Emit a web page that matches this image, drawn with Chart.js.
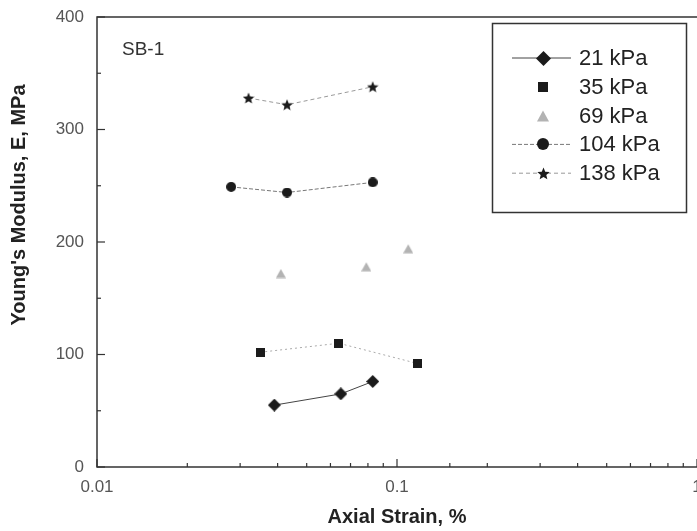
<!DOCTYPE html>
<html>
<head>
<meta charset="utf-8">
<script src="https://cdn.jsdelivr.net/npm/chart.js@4.4.0/dist/chart.umd.min.js"></script>
<style>
  html, body { margin: 0; padding: 0; background: #fff; }
  #wrap { width: 697px; height: 531px; }
</style>
</head>
<body>
<div id="wrap"><canvas id="modulusChart"></canvas></div>
<script>
// values (strain in %, modulus in MPa)
const strain21 = [0.039, 0.065, 0.083];
const modulus21 = [55, 65, 76];
const strain35 = [0.035, 0.064, 0.117];
const modulus35 = [102, 110, 92];
const strain69 = [0.041, 0.079, 0.109];
const modulus69 = [172, 178, 194];
const strain104 = [0.028, 0.043, 0.083];
const modulus104 = [249, 244, 253];
const strain138 = [0.032, 0.043, 0.083];
const modulus138 = [328, 322, 338];

const seriesLabels = ["21 kPa", "35 kPa", "69 kPa", "104 kPa", "138 kPa"];
const xTickLabels = [0.01, 0.1, 1];
const yTickLabels = [0, 100, 200, 300, 400];

Chart.defaults.font.family = "'Liberation Sans', Arial, sans-serif";

// small canvas markers so the star is a filled 5-point star
function marker(shape, size, color) {
  const c = document.createElement("canvas");
  c.width = size;
  c.height = size;
  const g = c.getContext("2d");
  const m = size / 2;
  g.fillStyle = color;
  g.beginPath();
  if (shape === "diamond") {
    g.moveTo(m, 0); g.lineTo(size, m); g.lineTo(m, size); g.lineTo(0, m);
  } else if (shape === "square") {
    g.rect(0, 0, size, size);
  } else if (shape === "triangle") {
    g.moveTo(m, 0.5); g.lineTo(size, size - 0.5); g.lineTo(0, size - 0.5);
  } else if (shape === "circle") {
    g.arc(m, m, m, 0, Math.PI * 2);
  } else if (shape === "star") {
    for (let i = 0; i < 10; i++) {
      const r = i % 2 ? m * 0.45 : m;
      const a = -Math.PI / 2 + i * Math.PI / 5;
      const px = m + r * Math.cos(a), py = m + 0.6 + r * Math.sin(a);
      if (i === 0) g.moveTo(px, py); else g.lineTo(px, py);
    }
  }
  g.closePath();
  g.fill();
  return c;
}

function pts(xs, ys) {
  return xs.map((x, i) => ({ x: x, y: ys[i] }));
}

const markers = [
  marker("diamond", 13, "#1b1b1b"),
  marker("square", 9, "#1b1b1b"),
  marker("triangle", 10, "#b3b3b3"),
  marker("circle", 10, "#1b1b1b"),
  marker("star", 12, "#1b1b1b"),
];
const legendMarkers = [
  marker("diamond", 15, "#1b1b1b"),
  marker("square", 10, "#1b1b1b"),
  marker("triangle", 12, "#b3b3b3"),
  marker("circle", 12, "#1b1b1b"),
  marker("star", 13, "#1b1b1b"),
];

const datasets = [
  { label: seriesLabels[0], data: pts(strain21, modulus21), showLine: true,
    borderColor: "#444", borderWidth: 1, legendLine: true },
  { label: seriesLabels[1], data: pts(strain35, modulus35), showLine: true,
    borderColor: "#aaa", borderWidth: 1, borderDash: [2, 3], legendLine: false },
  { label: seriesLabels[2], data: pts(strain69, modulus69), showLine: false,
    borderColor: "#bbb", legendLine: false },
  { label: seriesLabels[3], data: pts(strain104, modulus104), showLine: true,
    borderColor: "#777", borderWidth: 1, borderDash: [4, 2], legendLine: true },
  { label: seriesLabels[4], data: pts(strain138, modulus138), showLine: true,
    borderColor: "#999", borderWidth: 1, borderDash: [4, 3], legendLine: true },
];
datasets.forEach((ds, i) => {
  ds.pointStyle = markers[i];
  ds.pointRadius = 5;
  ds.pointHoverRadius = 5;
  ds.tension = 0;
});

// frame, inward ticks, y title, SB-1 note and the boxed legend
const decorPlugin = {
  id: "decor",
  afterDraw(chart) {
    const { ctx, chartArea: a, scales } = chart;
    ctx.save();
    ctx.strokeStyle = "#333";
    ctx.lineWidth = 1.5;
    ctx.beginPath();
    ctx.moveTo(a.right, a.top); ctx.lineTo(a.left, a.top);
    ctx.lineTo(a.left, a.bottom); ctx.lineTo(a.right, a.bottom);
    ctx.stroke();

    ctx.lineWidth = 1.2;
    scales.y.ticks.forEach((t) => {
      const y = scales.y.getPixelForValue(t.value);
      const len = t.value % 100 === 0 ? 8 : 4;
      ctx.beginPath(); ctx.moveTo(a.left, y); ctx.lineTo(a.left + len, y); ctx.stroke();
    });
    scales.x.ticks.forEach((t) => {
      const x = scales.x.getPixelForValue(t.value);
      const lg = Math.log10(t.value);
      const len = Math.abs(lg - Math.round(lg)) < 1e-6 ? 8 : 4;
      ctx.beginPath(); ctx.moveTo(x, a.bottom); ctx.lineTo(x, a.bottom - len); ctx.stroke();
    });

    ctx.fillStyle = "#333";
    ctx.font = "19px 'Liberation Sans', Arial";
    ctx.textBaseline = "middle";
    ctx.textAlign = "left";
    ctx.fillText("SB-1", 122, 50);

    ctx.save();
    ctx.translate(19, 205);
    ctx.rotate(-Math.PI / 2);
    ctx.textAlign = "center";
    ctx.fillStyle = "#222";
    ctx.font = "bold 20px 'Liberation Sans', Arial";
    ctx.fillText("Young's Modulus, E, MPa", 0, 0);
    ctx.restore();

    // legend
    ctx.lineWidth = 1.5;
    ctx.strokeStyle = "#333";
    ctx.strokeRect(492.5, 23.5, 194, 189);
    chart.data.datasets.forEach((ds, i) => {
      const y = 58 + i * 28.8;
      if (ds.legendLine) {
        ctx.save();
        ctx.strokeStyle = ds.borderColor;
        ctx.lineWidth = 1;
        ctx.setLineDash(ds.borderDash || []);
        ctx.beginPath(); ctx.moveTo(512, y); ctx.lineTo(571, y); ctx.stroke();
        ctx.restore();
      }
      const m = legendMarkers[i];
      ctx.drawImage(m, Math.round(543 - m.width / 2), Math.round(y - m.height / 2));
      ctx.fillStyle = "#222";
      ctx.font = "22px 'Liberation Sans', Arial";
      ctx.textAlign = "left";
      ctx.fillText(ds.label, 579, y + 1);
    });
    ctx.restore();
  },
};

function isLabelled(list, v) {
  return list.some((l) => Math.abs(l - v) <= Math.abs(l) * 1e-6 + 1e-12);
}

new Chart(document.getElementById("modulusChart"), {
  type: "scatter",
  data: { datasets: datasets },
  options: {
    responsive: true,
    maintainAspectRatio: false,
    animation: false,
    layout: { autoPadding: false, padding: { top: 17, right: 0, bottom: 0, left: 0 } },
    plugins: { legend: { display: false }, tooltip: { enabled: false } },
    scales: {
      x: {
        type: "logarithmic",
        min: 0.01,
        max: 1,
        grid: { display: false, drawTicks: false },
        border: { display: false },
        ticks: {
          autoSkip: false,
          maxRotation: 0,
          padding: 10,
          color: "#555",
          font: { size: 17 },
          callback: (v) => (isLabelled(xTickLabels, v) ? String(v) : ""),
        },
        title: {
          display: true,
          text: "Axial Strain, %",
          color: "#222",
          font: { size: 20, weight: "bold" },
          padding: { top: 0, bottom: 2 },
        },
        afterFit(scale) {
          scale.height = 64;
          scale.paddingLeft = 0;
          scale.paddingRight = 0;
        },
      },
      y: {
        min: 0,
        max: 400,
        grid: { display: false, drawTicks: false },
        border: { display: false },
        ticks: {
          stepSize: 50,
          padding: 13,
          color: "#555",
          font: { size: 17 },
          callback: (v) => (yTickLabels.includes(v) ? String(v) : ""),
        },
        afterFit(scale) {
          scale.width = 97;
          scale.paddingTop = 0;
          scale.paddingBottom = 0;
        },
      },
    },
  },
  plugins: [decorPlugin],
});
</script>
</body>
</html>
